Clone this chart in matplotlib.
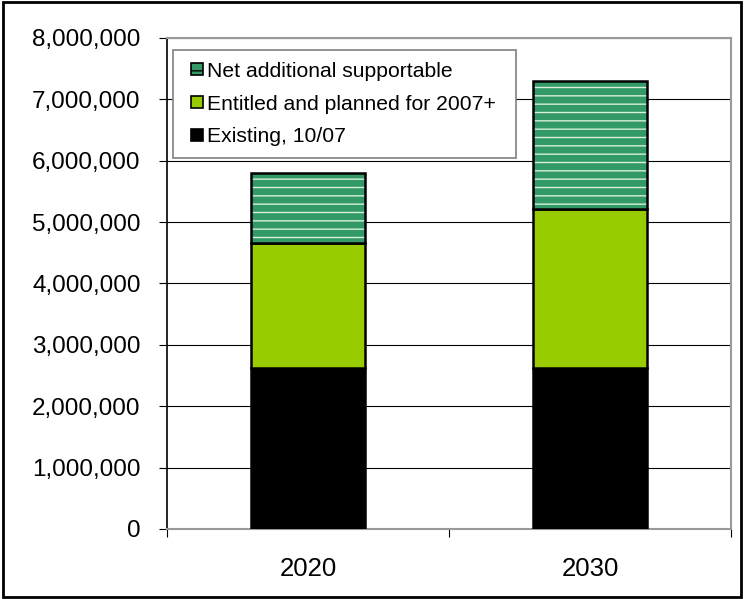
import numpy as np
import matplotlib.pyplot as plt
from matplotlib.patches import Rectangle
from matplotlib.legend_handler import HandlerPatch

plt.rcParams['font.family'] = ['Liberation Sans', 'DejaVu Sans']

# Projections by year
years = ['2020', '2030']
existing = [2620000, 2620000]
entitled = [2040000, 2590000]
net_additional = [1140000, 2090000]

yticks = np.arange(0, 8000001, 1000000)

fig = plt.figure(figsize=(7.44, 5.99), dpi=100)
ax = fig.add_axes([0.2245, 0.1169, 0.758, 0.8197])

x = np.arange(len(years))
w = 0.405
bottom2 = np.array(existing) + np.array(entitled)

ax.bar(x, existing, w, color='black', edgecolor='black', linewidth=1.8, zorder=3,
       label='Existing, 10/07')
ax.bar(x, entitled, w, bottom=existing, color='#99cc00', edgecolor='black',
       linewidth=1.8, zorder=3, label='Entitled and planned for 2007+')
# hatched segment: fill + light stripes, then black outline on top
ax.bar(x, net_additional, w, bottom=bottom2, color='#339966', edgecolor='#d8f0dc',
       hatch='--', linewidth=0, zorder=3)
ax.bar(x, net_additional, w, bottom=bottom2, fill=False, edgecolor='black',
       linewidth=1.8, zorder=4)

ax.set_xlim(-0.5, 1.5)
ax.set_ylim(0, 8000000)
ax.set_yticks(yticks)
ax.set_yticklabels([f'{v:,}' for v in yticks], fontsize=17.5)
ax.yaxis.grid(True, color='black', linewidth=0.8, zorder=0)
ax.set_axisbelow(True)

ax.set_xticks([-0.5, 0.5, 1.5])
ax.set_xticklabels([])
ax.set_xticks(x, minor=True)
ax.set_xticklabels(years, minor=True, fontsize=18.5)
ax.tick_params(axis='x', which='minor', length=0, pad=20)
ax.tick_params(axis='x', which='major', direction='out', length=6, color='black', width=0.8)
ax.tick_params(axis='y', direction='out', length=6, width=0.8, pad=13)

ax.spines['left'].set_color('black')
ax.spines['left'].set_linewidth(1.2)
for s in ['top', 'right', 'bottom']:
    ax.spines[s].set_color('#999999')
    ax.spines[s].set_linewidth(1.5)


def square_patch(legend, orig_handle, xdescent, ydescent, width, height, fontsize):
    # small square pushed to the right side of the handle box
    s = 0.55 * fontsize
    return Rectangle((-xdescent + width - s, -ydescent + (height - s) / 2), s, s)


# legend handles
h_net = Rectangle((0, 0), 1, 1, facecolor='#339966', edgecolor='black', hatch='--', linewidth=1.2)
h_ent = Rectangle((0, 0), 1, 1, facecolor='#99cc00', edgecolor='black', linewidth=1.2)
h_ex = Rectangle((0, 0), 1, 1, facecolor='black', edgecolor='black', linewidth=1.2)
sq = HandlerPatch(patch_func=square_patch)
leg = ax.legend([h_net, h_ent, h_ex],
                ['Net additional supportable', 'Entitled and planned for 2007+', 'Existing, 10/07'],
                loc='upper left', bbox_to_anchor=(0.0106, 0.9756 - 0.3, 0.608, 0.3),
                mode='expand', fontsize=15.2,
                handler_map={h_net: sq, h_ent: sq, h_ex: sq},
                handlelength=0.85, handleheight=0.6, handletextpad=0.2,
                labelspacing=0.66, borderpad=0.55, fancybox=False, framealpha=1,
                borderaxespad=0)
leg.get_frame().set_edgecolor('#808080')
leg.get_frame().set_linewidth(1.2)
leg.set_zorder(5)

# outer frame around the figure
fig.patches.append(Rectangle((0.004, 0.004), 0.992, 0.992, transform=fig.transFigure,
                             fill=False, edgecolor='black', linewidth=2))

fig.savefig('out.png', dpi=100)
